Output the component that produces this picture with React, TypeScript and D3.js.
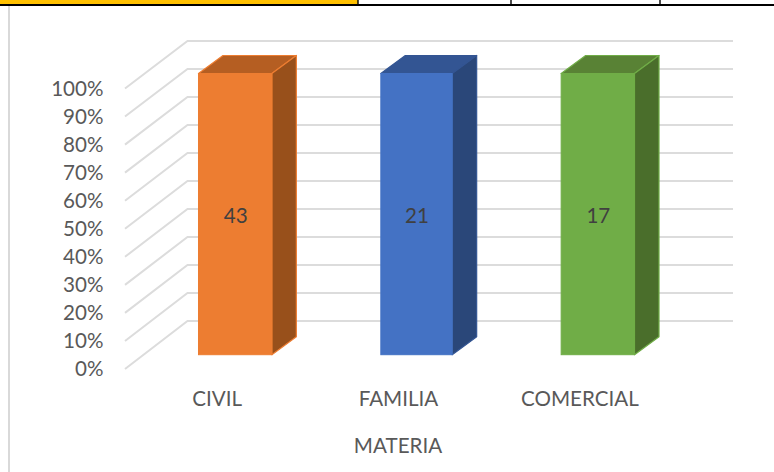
import React from "react";
import * as d3 from "d3";

const categories = ["CIVIL", "FAMILIA", "COMERCIAL"];
const counts = [43, 21, 17];
const shares = [100, 100, 100];
const ticks = [0, 10, 20, 30, 40, 50, 60, 70, 80, 90, 100];
const frontColors = ["#ED7D31", "#4472C4", "#70AD47"];
const topColors = ["#B55E22", "#335593", "#598235"];
const sideColors = ["#98501B", "#2A4779", "#4A6E2B"];
const edgeColors = ["#ED7D31", "#335593", "#70AD47"];
const headerStops = [358, 511, 660];

const W = 774;
const H = 472;
const FONT = "Lato, 'Open Sans', sans-serif";
const TEXT = "#595959";

export default function App() {
  const yFloorFront = d3.scaleLinear().domain([0, 100]).range([369, 88.5]);
  const yWall = d3.scaleLinear().domain([0, 100]).range([321, 41]);
  const yBar = d3.scaleLinear().domain([0, 100]).range([354.7, 73.5]);
  const x = d3.scaleBand<string>().domain(categories).range([145, 689]).paddingInner(0.59).paddingOuter(0.295);
  const bw = x.bandwidth();
  const dx = 24.5;
  const dy = -18;
  const path = (pts: [number, number][]) => d3.line()(pts) + "Z";

  return (
    <svg width={W} height={H} style={{ position: "absolute", left: 0, top: 0, background: "#fff" }}>
      <rect x={0} y={0} width={358} height={4.5} fill="#FFC000" />
      <line x1={0} x2={W} y1={5} y2={5} stroke="#000" strokeWidth={2} />
      {headerStops.map((s) => (
        <line key={s} x1={s} x2={s} y1={0} y2={5} stroke="#000" strokeWidth={1.4} />
      ))}
      <line x1={9} x2={9} y1={6} y2={H} stroke="#D9D9D9" strokeWidth={2} />

      {ticks.map((t) => (
        <g key={t}>
          <polyline
            points={`125,${yFloorFront(t)} 187.5,${yWall(t)} 733,${yWall(t)}`}
            fill="none"
            stroke="#DCDCDC"
            strokeWidth={2}
          />
          <text x={103.5} y={yFloorFront(t)} dy="0.35em" textAnchor="end" fontFamily={FONT} fontSize={20.6} fill={TEXT}>
            {t}%
          </text>
        </g>
      ))}

      {categories.map((c, i) => {
        const inset = i === 1 ? 1 : 0;
        const l = x(c)! + inset;
        const w = bw - 1 - 2 * inset;
        const r = l + w;
        const top = yBar(shares[i]);
        const bot = yBar(0);
        const mid = x(c)! + bw / 2;
        return (
          <g key={c}>
            <path
              d={path([[l, top], [r, top], [r + dx, top + dy], [l + dx, top + dy]])}
              fill={topColors[i]}
              stroke={edgeColors[i]}
              strokeWidth={1.2}
              strokeLinejoin="round"
            />
            <path
              d={path([[r, top], [r + dx, top + dy], [r + dx, bot + dy], [r, bot]])}
              fill={sideColors[i]}
              stroke={edgeColors[i]}
              strokeWidth={1.2}
              strokeLinejoin="round"
            />
            <rect x={l} y={top} width={w} height={bot - top} fill={frontColors[i]} stroke={frontColors[i]} strokeWidth={1} />
            <text x={mid} y={215.5} dy="0.35em" textAnchor="middle" fontFamily={FONT} fontSize={20.6} fill="#404040">
              {counts[i]}
            </text>
            <text x={mid - 18.5} y={398.5} dy="0.35em" textAnchor="middle" fontFamily={FONT} fontSize={20.6} fill={TEXT}>
              {c}
            </text>
          </g>
        );
      })}

      <text x={398} y={446} dy="0.35em" textAnchor="middle" fontFamily={FONT} fontSize={20.6} fill={TEXT}>
        MATERIA
      </text>
    </svg>
  );
}
